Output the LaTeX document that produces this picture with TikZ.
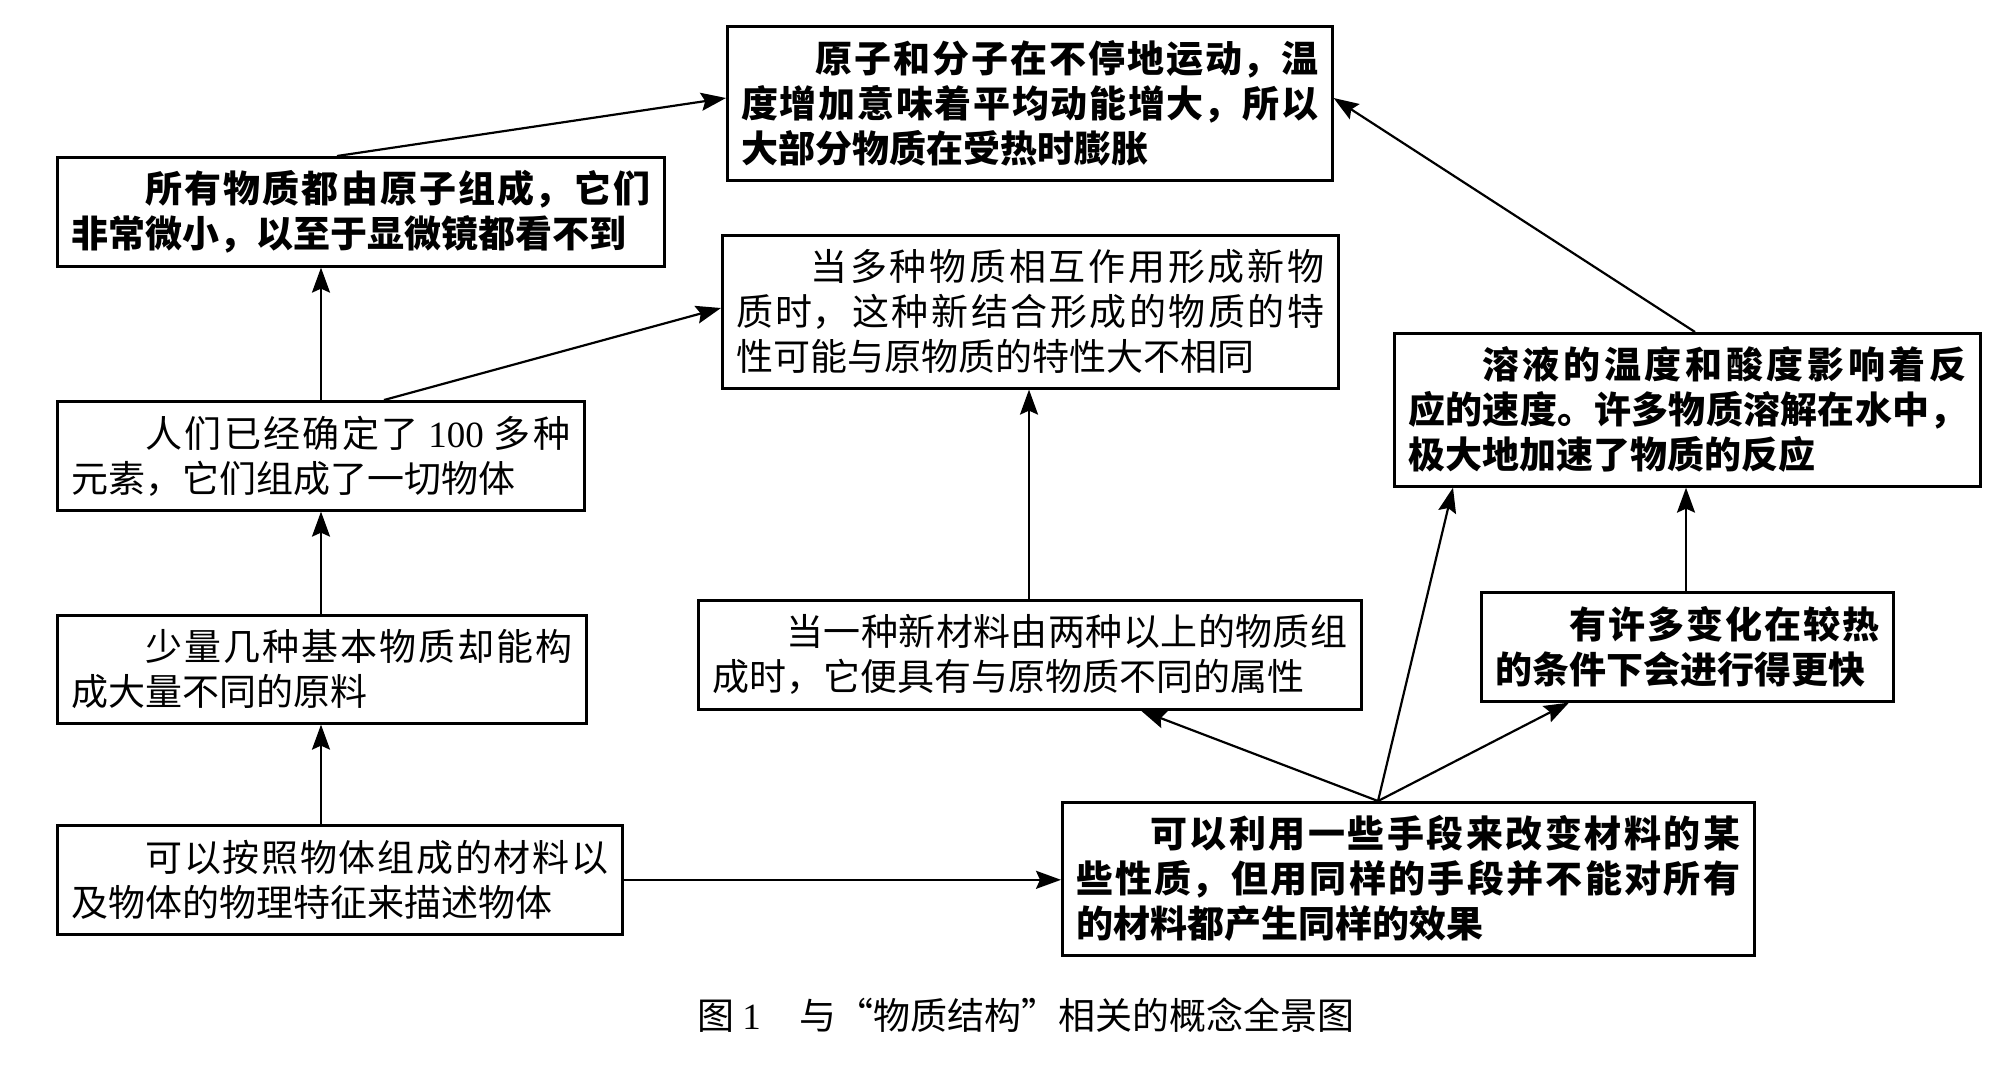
\documentclass[tikz,border=0pt]{standalone}
\usepackage{fontspec}
\setmainfont{Liberation Serif}
\newfontfamily\cjk{Noto Sans CJK SC}
\newfontfamily\cjkfw{Noto Sans CJK SC}[RawFeature=+fwid]
\usetikzlibrary{arrows.meta,calc}
\XeTeXlinebreaklocale "zh"
\XeTeXlinebreakskip=0pt plus 3pt
\begin{document}
\begin{tikzpicture}[x=0.5pt,y=-0.5pt,
  cbox/.style={draw, line width=1.3pt, inner xsep=7pt, inner ysep=0pt, align=justify,
    anchor=north west, font=\cjk\fontsize{18.5pt}{22.5pt}\selectfont},
  bbox/.style={cbox, font=\cjk\bfseries\fontsize{18.5pt}{22.5pt}\selectfont},
  conn/.style={-{Stealth[length=12.5pt,width=9pt,inset=2pt]}, line width=1.1pt}]
\fill[white] (0,0) rectangle (2006,1084);
\useasboundingbox (0,0) rectangle (2006,1084);

\node[bbox, text width=288.5pt, minimum height=77pt] (A) at (726,25)
  {\hspace*{2em}原子和分子在不停地运动，温\linebreak 度增加意味着平均动能增大，所以\linebreak 大部分物质在受热时膨胀};
\node[bbox, text width=289.5pt, minimum height=54.5pt] (B) at (56,156)
  {\hspace*{2em}所有物质都由原子组成，它们\linebreak 非常微小，以至于显微镜都看不到};
\node[cbox, text width=294pt, minimum height=76.5pt] (C) at (721,234)
  {\hspace*{2em}当多种物质相互作用形成新物\linebreak 质时，这种新结合形成的物质的特\linebreak 性可能与原物质的特性大不相同};
\node[cbox, text width=249.5pt, minimum height=54.5pt] (D) at (56,400)
  {\hspace*{2em}人们已经确定了 {\rmfamily 100} 多种\linebreak 元素，它们组成了一切物体};
\node[bbox, text width=279pt, minimum height=76.5pt] (E) at (1393,332)
  {\hspace*{2em}溶液的温度和酸度影响着反\linebreak 应的速度。许多物质溶解在水中，\linebreak 极大地加速了物质的反应};
\node[cbox, text width=250.5pt, minimum height=54pt] (F) at (56,614)
  {\hspace*{2em}少量几种基本物质却能构\linebreak 成大量不同的原料};
\node[cbox, text width=268.5pt, minimum height=54.5pt] (G) at (56,824)
  {\hspace*{2em}可以按照物体组成的材料以\linebreak 及物体的物理特征来描述物体};
\node[cbox, text width=317.5pt, minimum height=54.5pt] (H) at (697,599)
  {\hspace*{2em}当一种新材料由两种以上的物质组\linebreak 成时，它便具有与原物质不同的属性};
\node[bbox, text width=332pt, minimum height=76.5pt] (I) at (1061,801)
  {\hspace*{2em}可以利用一些手段来改变材料的某\linebreak 些性质，但用同样的手段并不能对所有\linebreak 的材料都产生同样的效果};
\node[bbox, text width=192pt, minimum height=54.5pt] (J) at (1480,591)
  {\hspace*{2em}有许多变化在较热\linebreak 的条件下会进行得更快};

\node[anchor=west, inner sep=0pt, font=\cjk\fontsize{18.5pt}{18.5pt}\selectfont] (cap) at (697,1015)
  {图\hspace{4pt}{\rmfamily 1}\hspace{19.5pt}与{\cjkfw “}物质结构{\cjkfw ”}相关的概念全景图};

\coordinate (i0) at ($(I.north west)+(317,0)$);
\draw[conn] ($(B.north west)+(281,0)$) -- ($(A.north west)+(0,73)$);
\draw[conn] ($(D.north west)+(265,0)$) -- ($(B.south west)+(265,0)$);
\draw[conn] ($(D.north west)+(328,0)$) -- ($(C.north west)+(0,74)$);
\draw[conn] ($(F.north west)+(265,0)$) -- ($(D.south west)+(265,0)$);
\draw[conn] ($(G.north west)+(265,0)$) -- ($(F.south west)+(265,0)$);
\draw[conn] (G.east) -- (G.east -| I.west);
\draw[conn] (i0) -- ($(H.south west)+(444,0)$);
\draw[conn] (i0) -- ($(E.south west)+(60,0)$);
\draw[conn] (i0) -- ($(J.south west)+(89,0)$);
\draw[conn] ($(J.north west)+(206,0)$) -- ($(E.south west)+(293,0)$);
\draw[conn] ($(H.north west)+(332,0)$) -- ($(C.south west)+(308,0)$);
\draw[conn] ($(E.north west)+(302,0)$) -- ($(A.north east)+(0,73)$);
\end{tikzpicture}
\end{document}
